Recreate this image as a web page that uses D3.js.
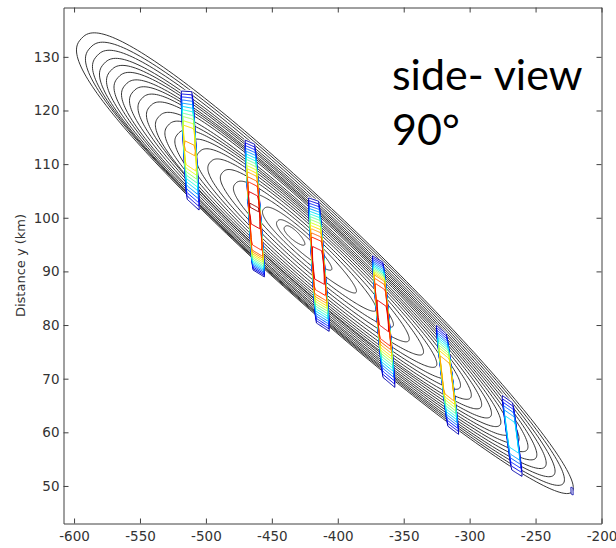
<!DOCTYPE html>
<html><head><meta charset="utf-8">
<script src="https://cdn.jsdelivr.net/npm/d3@7"></script>
<style>body{margin:0;background:#fff}svg{display:block}</style>
</head><body>
<svg id="chart" width="616" height="548"></svg>
<script>
(function () {
// ---------- axes ----------
const xTicks = [-600, -550, -500, -450, -400, -350, -300, -250, -200];
const yTicks = [50, 60, 70, 80, 90, 100, 110, 120, 130];
const xDomain = [-608, -200];
const yDomain = [43, 139.2];
const yLabel = "Distance y (km)";
const noteLines = ["side- view", "90°"];

// ---------- black contour family (nested ovals) ----------
const axisStart = [-594.5, 133.4];
const axisEnd = [-222.4, 48.9];
const contourStart = [0, .018, .032, .046, .06, .075, .09, .106, .123, .14, .158, .177, .197, .218, .24, .263, .288, .314, .342, .372, .40, .415];
const contourEnd = [1, .982, .963, .945, .926, .908, .89, .872, .853, .834, .814, .793, .771, .748, .723, .696, .667, .635, .6, .56, .51, .455];
const contourHalfHeight = [11.3, 10.95, 10.6, 10.25, 9.9, 9.55, 9.2, 8.85, 8.5, 8.15, 7.8, 7.4, 7.0, 6.55, 6.05, 5.5, 4.9, 4.2, 3.5, 2.7, 1.9, 1.1];
// vertical shift of each contour's upper-left apex (km)
const contourStartShift = [0, -.2, -.5, -.8, -.9, -.9, -1, -.9, -.8, -.8, -1.2, -1.2, -1.1, -1, -.9, -.8, -.6, -.5, -.4, -.3, -.2, 0];
const eggSkew = 0.15;

// ---------- coloured cross-section slabs ----------
const slabTL = [[-519.4, 123.9], [-470.9, 114.8], [-422.8, 104.0], [-374.5, 93.2], [-326.0, 80.3], [-276.1, 67.3], [-223.3, 49.9]];
const slabTR = [[-510.1, 123.8], [-462.5, 113.9], [-414.0, 103.3], [-365.2, 91.8], [-317.1, 78.45], [-267.0, 65.7], [-221.6, 49.7]];
const slabBL = [[-514.9, 103.3], [-465.0, 90.25], [-417.0, 80.3], [-366.4, 70.1], [-317.1, 61.0], [-268.5, 52.7], [-223.1, 48.4]];
const slabBR = [[-504.3, 100.9], [-454.9, 88.7], [-405.6, 78.45], [-355.8, 67.9], [-307.5, 59.2], [-259.4, 51.3], [-221.4, 48.2]];
const slabProfile = [
  [0, .20, .38, .55, .68, .70, .74, .70, .66, .50, .33, .17, 0],
  [0, .25, .50, .72, .86, .92, .98, .92, .90, .88, .82, .45, 0],
  [0, .25, .50, .72, .88, .92, .93, .92, .90, .82, .55, .28, 0],
  [0, .35, .75, .88, .90, .92, .92, .90, .85, .65, .42, .20, 0],
  [0, .22, .45, .65, .76, .78, .78, .77, .72, .55, .37, .18, 0],
  [0, .12, .24, .33, .37, .38, .38, .37, .35, .30, .20, .10, 0],
  [0, .04, .06, .06, .06, .06, .06, .06, .06, .06, .06, .04, 0]
];
const slabAcross = [0, .97, 1, 1, 1, 1, 1, 1, 1, 1, 1, 1, .97, 0];
const colorThresholds = [.031, .094, .156, .219, .281, .344, .406, .469, .531, .594, .656, .719, .781, .844, .906, .969];
const jetStops = ["#00008f", "#0000ff", "#00ffff", "#ffff00", "#ff0000", "#800000"];
const jetPos = [0, .125, .375, .625, .875, 1];

// ---------- drawing ----------
const svg = d3.select("#chart");
const pLeft = 63.5, pRight = 601.5, pTop = 7.5, pBottom = 523.5;
const x = d3.scaleLinear().domain(xDomain).range([pLeft, pRight]);
const y = d3.scaleLinear().domain(yDomain).range([pBottom, pTop]);
const jet = d3.scaleLinear().domain(jetPos).range(jetStops).clamp(true);

const plot = svg.append("g");
const line = d3.line().curve(d3.curveLinearClosed);

contourStart.forEach((us, k) => {
  const ue = contourEnd[k];
  const sx = axisStart[0] + us * (axisEnd[0] - axisStart[0]);
  const sy = axisStart[1] + us * (axisEnd[1] - axisStart[1]) + contourStartShift[k];
  const ex = axisStart[0] + ue * (axisEnd[0] - axisStart[0]);
  const ey = axisStart[1] + ue * (axisEnd[1] - axisStart[1]);
  const A = [x(sx), y(sy)], B = [x(ex), y(ey)];
  const len = Math.hypot(B[0] - A[0], B[1] - A[1]);
  const e = [(B[0] - A[0]) / len, (B[1] - A[1]) / len];
  const nrm = [-e[1], e[0]];
  const a = len / 2;
  const b = (y(0) - y(contourHalfHeight[k])) * e[0];
  const c = [(A[0] + B[0]) / 2, (A[1] + B[1]) / 2];
  const pts = d3.range(0, 360, 1.5).map(deg => {
    const th = deg * Math.PI / 180;
    const cs = Math.cos(th), sn = Math.sin(th);
    const p = 0.9 - 0.1 * cs;
    const al = -a * cs;
    const ac = b * Math.sign(sn) * Math.pow(Math.abs(sn), p) * (1 + eggSkew * cs);
    return [c[0] + e[0] * al + nrm[0] * ac, c[1] + e[1] * al + nrm[1] * ac];
  });
  plot.append("path").attr("d", line(pts))
    .attr("fill", "none").attr("stroke", "#1e1e1e").attr("stroke-width", 0.9);
});

const nx = slabAcross.length;
slabTL.forEach((tl, si) => {
  const prof = slabProfile[si];
  const ny = prof.length;
  const TL = [x(tl[0]), y(tl[1])], TR = [x(slabTR[si][0]), y(slabTR[si][1])];
  const BL = [x(slabBL[si][0]), y(slabBL[si][1])], BR = [x(slabBR[si][0]), y(slabBR[si][1])];
  const map = (gx, gy) => {
    const s = (gx - 0.5) / (nx - 1), t = (gy - 0.5) / (ny - 1);
    const tp = [TL[0] + s * (TR[0] - TL[0]), TL[1] + s * (TR[1] - TL[1])];
    const bt = [BL[0] + s * (BR[0] - BL[0]), BL[1] + s * (BR[1] - BL[1])];
    return [tp[0] + t * (bt[0] - tp[0]), tp[1] + t * (bt[1] - tp[1])];
  };
  plot.append("path").attr("d", line([TL, TR, BR, BL])).attr("fill", "#fff").attr("stroke", "none");
  const values = [];
  for (let r = 0; r < ny; r++) for (let cc = 0; cc < nx; cc++) values.push(prof[r] * slabAcross[cc]);
  const cs = d3.contours().size([nx, ny]).thresholds(colorThresholds)(values);
  cs.forEach(cont => {
    cont.coordinates.forEach(poly => poly.forEach(ring => {
      plot.append("path").attr("d", line(ring.map(p => map(p[0], p[1]))))
        .attr("fill", "none").attr("stroke", jet(cont.value)).attr("stroke-width", 1);
    }));
  });
});

const axisColor = "#404040";
const fmt = d => String(d);
const gB = svg.append("g").attr("transform", `translate(0,${pBottom})`)
  .call(d3.axisBottom(x).tickValues(xTicks).tickSizeInner(-5).tickSizeOuter(0).tickPadding(8).tickFormat(fmt));
const gT = svg.append("g").attr("transform", `translate(0,${pTop})`)
  .call(d3.axisTop(x).tickValues(xTicks).tickSizeInner(-5).tickSizeOuter(0).tickFormat(""));
const gL = svg.append("g").attr("transform", `translate(${pLeft},0)`)
  .call(d3.axisLeft(y).tickValues(yTicks).tickSizeInner(-5).tickSizeOuter(0).tickPadding(4).tickFormat(fmt));
const gR = svg.append("g").attr("transform", `translate(${pRight},0)`)
  .call(d3.axisRight(y).tickValues(yTicks).tickSizeInner(-5).tickSizeOuter(0).tickFormat(""));
[gB, gT, gL, gR].forEach(g => {
  g.select(".domain").attr("stroke", axisColor);
  g.selectAll(".tick line").attr("stroke", axisColor);
  g.selectAll("text").attr("fill", "#333").style("font-family", "'DejaVu Sans', sans-serif").style("font-size", "13.5px");
});

svg.append("text").attr("transform", `translate(25,${(pTop + pBottom) / 2}) rotate(-90)`)
  .attr("text-anchor", "middle").attr("fill", "#333")
  .style("font-family", "'DejaVu Sans', sans-serif").style("font-size", "13px").text(yLabel);

svg.append("text").attr("x", 392).attr("y", 90).attr("fill", "#000")
  .style("font-family", "Lato, sans-serif").style("font-size", "43px").text(noteLines[0]);
svg.append("text").attr("x", 392).attr("y", 145).attr("fill", "#000")
  .style("font-family", "Lato, sans-serif").style("font-size", "43px").text(noteLines[1]);
})();
</script>
</body></html>
